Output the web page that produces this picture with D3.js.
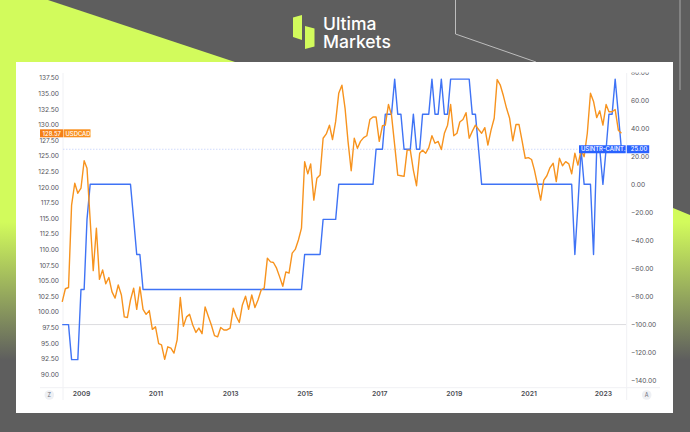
<!DOCTYPE html>
<html>
<head>
<meta charset="utf-8">
<script src="https://cdn.jsdelivr.net/npm/d3@7"></script>
<style>
html, body { margin: 0; padding: 0; background: #5e5e5e; }
svg { display: block; font-family: Inter, Roboto, sans-serif; }
</style>
</head>
<body>
<svg id="chart" width="690" height="432"></svg>
<script>
'use strict';

// USDCAD, monthly
var usdcad = [
    101.6, 103.7, 103.9, 117.1, 120.6, 119.0, 119.8, 124.2, 123.0, 114.7,
    106.6, 113.4, 105.2, 106.7, 104.5, 105.5, 103.2, 102.2, 104.3, 102.7,
    99.2, 99.1, 101.9, 103.8, 100.4, 104.0, 100.4, 99.6, 100.2, 97.2,
    97.6, 94.9, 94.7, 92.4, 94.4, 94.2,
    93.4, 95.5, 102.3, 97.7, 99.2, 99.6, 97.9, 96.7, 97.4, 96.5,
    100.8, 99.3, 97.9, 96.2, 96.0, 97.5, 97.1, 97.1, 97.4, 100.6,
    99.3, 98.3, 101.1, 102.5, 100.4, 102.7, 100.7, 101.9, 103.5, 103.8,
    108.6, 108.0, 107.9, 107.0, 105.6, 104.1, 106.4, 106.2, 109.4, 110.0,
    111.5, 113.4,
    124.05, 122.1, 123.7, 117.9, 121.4, 121.9, 127.8, 128.5, 129.9, 127.6,
    130.5, 135.0, 136.3, 132.6, 127.3, 122.6, 127.8, 126.2, 127.3, 127.9,
    128.2, 130.8, 131.2, 131.2, 127.3, 129.8, 129.9, 133.2, 131.5, 126.7,
    121.9, 121.8, 121.7, 125.9, 125.9, 122.7, 120.2, 125.4,
    125.9, 125.4, 126.3, 128.2, 127.0, 127.3, 126.0, 128.6, 129.9, 133.2,
    128.2, 128.6, 130.4, 130.8, 131.9, 127.8, 128.9, 129.9, 129.2, 128.6,
    129.5, 126.7, 129.1, 131.0, 137.2, 136.3, 134.6, 132.6, 131.0, 127.4,
    130.0, 130.0, 127.3, 124.6, 124.7, 124.4, 122.7, 120.3, 117.9,
    121.1, 121.8, 123.1, 123.8, 120.85, 124.6, 123.4, 124.05, 123.7, 122.1,
    125.4, 123.5, 125.9, 124.85, 128.6, 135.0, 133.7, 131.1, 132.2, 129.9,
    133.2, 132.05, 132.05, 132.4, 129.1, 128.6
];

// US minus Canada policy rate
var rateSpread = [
    -100, -100, -100, -125, -125, -125, -75, -75, -25,
    0, 0, 0, 0, 0, 0, 0, 0, 0, 0, 0, 0, 0, 0,
    -25, -50, -50,
    -75, -75, -75, -75, -75, -75, -75, -75, -75, -75, -75, -75, -75,
    -75, -75, -75, -75, -75, -75, -75, -75, -75, -75, -75, -75, -75, -75,
    -75, -75, -75, -75, -75, -75, -75, -75, -75, -75, -75, -75, -75, -75,
    -75, -75, -75, -75, -75, -75, -75, -75, -75, -75, -75,
    -50, -50, -50, -50, -50, -50,
    -25, -25, -25, -25, -25,
    0, 0, 0, 0, 0, 0, 0, 0, 0, 0, 0, 0,
    25, 25, 25, 50, 50, 50, 75, 50, 50, 25, 25, 25, 50, 25, 25,
    50, 50, 50, 75, 50, 50, 75, 50, 50,
    75, 75, 75, 75, 75, 75, 75,
    50, 50, 25,
    0, 0, 0, 0, 0, 0, 0, 0, 0, 0, 0, 0, 0, 0, 0,
    0, 0, 0, 0, 0, 0, 0, 0, 0, 0, 0, 0, 0, 0, 0,
    -50, -15, 25, 0, 0, 0, -50, 25, 25, 0, 25, 50, 50, 75, 50, 25
];

var leftTicks = [137.5, 135, 132.5, 130, 127.5, 125, 122.5, 120, 117.5, 115, 112.5, 110,
    107.5, 105, 102.5, 100, 97.5, 95, 92.5, 90];
var rightTicks = [80, 60, 40, 20, 0, -20, -40, -60, -80, -100, -120, -140];
var yearTicks = [2009, 2011, 2013, 2015, 2017, 2019, 2021, 2023];
var firstMonth = new Date(2008, 6, 1);

var ORANGE = '#f7931e', BLUE = '#3f73f5', BADGE_BLUE = '#2962ff', LIME = '#d2fb5c', GREY = '#5e5e5e';

var svg = d3.select('#chart');

var dates = usdcad.map(function (d, i) { return d3.timeMonth.offset(firstMonth, i); });

var x = d3.scaleTime()
    .domain([firstMonth, dates[dates.length - 1]])
    .range([62.2, 621.4]);
var yLeft = d3.scaleLinear().domain([90, 137.5]).range([374.3, 77.7]);
var yRight = d3.scaleLinear().domain([-140, 80]).range([380.7, 72.1]);

// backdrop
var defs = svg.append('defs');
var grad = defs.append('linearGradient').attr('id', 'fade').attr('gradientUnits', 'userSpaceOnUse')
    .attr('x1', 0).attr('x2', 0).attr('y1', 222).attr('y2', 360);
grad.append('stop').attr('offset', '0').attr('stop-color', LIME);
grad.append('stop').attr('offset', '1').attr('stop-color', GREY);
defs.append('clipPath').attr('id', 'chartTop')
    .append('rect').attr('x', 0).attr('y', 72.5).attr('width', 690).attr('height', 360);

svg.append('rect').attr('width', 690).attr('height', 432).attr('fill', GREY);
svg.append('polygon').attr('points', '0,0 48,0 235,62 235,70 0,70').attr('fill', LIME);
svg.append('rect').attr('x', 0).attr('y', 60).attr('width', 16).attr('height', 310).attr('fill', 'url(#fade)');
svg.append('polygon').attr('points', '673,208 690,215 690,372 673,372').attr('fill', 'url(#fade)');
svg.append('polyline').attr('points', '455.5,0 455.5,34 536,62').attr('fill', 'none')
    .attr('stroke', '#d5d5d5').attr('stroke-width', 0.8);
svg.append('line').attr('x1', 680).attr('x2', 680).attr('y1', 0).attr('y2', 90)
    .attr('stroke', '#bdbdbd').attr('stroke-width', 0.8);
svg.append('rect').attr('x', 16).attr('y', 62).attr('width', 657).attr('height', 351).attr('fill', '#fff');

// logo
svg.append('polygon').attr('points', '293,17.5 302,15 302,40 293,37').attr('fill', LIME);
svg.append('polygon').attr('points', '305,26 314.5,28.5 314.5,46.5 305,49').attr('fill', LIME);
svg.append('text').attr('x', 323).attr('y', 30).text('Ultima')
    .attr('fill', '#fff').attr('font-size', 17.5).attr('font-weight', 500);
svg.append('text').attr('x', 323).attr('y', 47.5).text('Markets')
    .attr('fill', '#fff').attr('font-size', 17.5).attr('font-weight', 500);

// frame of the chart
var frame = svg.append('g').attr('stroke', '#f0f1f4').attr('stroke-width', 1);
frame.append('line').attr('x1', 63).attr('x2', 63).attr('y1', 73).attr('y2', 400);
frame.append('line').attr('x1', 626.7).attr('x2', 626.7).attr('y1', 73).attr('y2', 400);
frame.append('line').attr('x1', 40).attr('x2', 660).attr('y1', 387.7).attr('y2', 387.7);

// reference lines
svg.append('line').attr('x1', 63).attr('x2', 626).attr('y1', yRight(-100)).attr('y2', yRight(-100))
    .attr('stroke', '#dcdcdf').attr('stroke-width', 1);
svg.append('line').attr('x1', 63).attr('x2', 626).attr('y1', yRight(25)).attr('y2', yRight(25))
    .attr('stroke', '#c4d2fb').attr('stroke-width', 0.8).attr('stroke-dasharray', '1.5,1.5');

// axes
function styleAxis(g) {
    g.select('.domain').remove();
    g.selectAll('.tick line').remove();
    g.selectAll('text').attr('fill', '#55565c').attr('font-size', 6.6).attr('font-family', 'Inter, Roboto, sans-serif');
}

svg.append('g').attr('transform', 'translate(59,0)')
    .call(d3.axisLeft(yLeft).tickValues(leftTicks).tickSize(0).tickPadding(0).tickFormat(d3.format('.2f')))
    .call(styleAxis);

svg.append('g').attr('clip-path', 'url(#chartTop)')
    .append('g').attr('transform', 'translate(631,0)')
    .call(d3.axisRight(yRight).tickValues(rightTicks).tickSize(0).tickPadding(0).tickFormat(d3.format('.2f')))
    .call(styleAxis);

svg.append('g').attr('transform', 'translate(0,391)')
    .call(d3.axisBottom(x)
        .tickValues(yearTicks.map(function (y) { return new Date(y, 0, 1); }))
        .tickSize(0).tickPadding(0).tickFormat(d3.timeFormat('%Y')))
    .call(styleAxis)
    .selectAll('text').attr('font-weight', 600).attr('font-size', 6.8).attr('fill', '#4a4b52');

// series
var lineSpread = d3.line().x(function (d, i) { return x(dates[i]); }).y(function (d) { return yRight(d); });
var lineUsdcad = d3.line().x(function (d, i) { return x(dates[i]); }).y(function (d) { return yLeft(d); });

svg.append('path').datum(rateSpread).attr('d', lineSpread).attr('fill', 'none')
    .attr('stroke', BLUE).attr('stroke-width', 1.4).attr('stroke-linejoin', 'round');
svg.append('path').datum(usdcad).attr('d', lineUsdcad).attr('fill', 'none')
    .attr('stroke', ORANGE).attr('stroke-width', 1.4).attr('stroke-linejoin', 'round');

// last value badges
function badge(x0, w, yc, fill, label, anchor) {
    svg.append('rect').attr('x', x0).attr('y', yc - 4).attr('width', w).attr('height', 8).attr('fill', fill);
    svg.append('text').attr('x', anchor === 'end' ? x0 + w - 2 : x0 + 2).attr('y', yc + 2.2)
        .attr('text-anchor', anchor).attr('fill', '#fff').attr('font-size', 5.9).attr('font-weight', 500).text(label);
}
var lastOrangeY = 133.3;
badge(40, 23, lastOrangeY, '#f57f17', '128.57', 'end');
badge(63.5, 27, lastOrangeY, '#f9901f', 'USDCAD', 'start');
badge(579, 46.7, yRight(25), BADGE_BLUE, 'USINTR-CAINT..', 'start');
badge(626.8, 22.4, yRight(25), BADGE_BLUE, '25.00', 'end');

// scale mode buttons
[[49.3, 'Z'], [646.7, 'A']].forEach(function (b) {
    svg.append('circle').attr('cx', b[0]).attr('cy', 395).attr('r', 4.8).attr('fill', '#eef0f4');
    svg.append('text').attr('x', b[0]).attr('y', 397).attr('text-anchor', 'middle')
        .attr('fill', '#6a6d78').attr('font-size', 5.5).text(b[1]);
});
</script>
</body>
</html>
